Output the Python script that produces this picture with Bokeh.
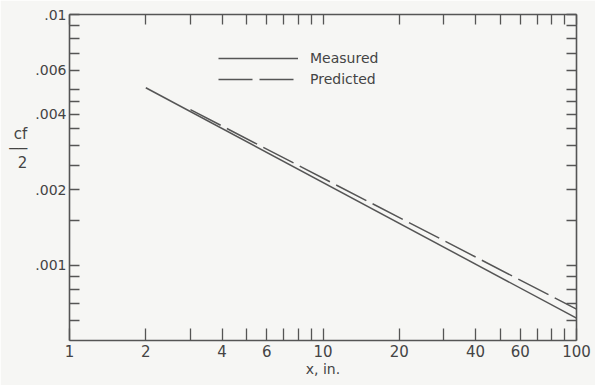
from bokeh.plotting import figure
from bokeh.models import LogAxis, FixedTicker, Legend, LegendItem
from bokeh.embed import file_html
from bokeh.resources import INLINE

# ---- data ----
measured_x = [2, 100]
measured_y = [0.0051, 0.000614]
predicted_x = [3, 100]
predicted_y = [0.00417, 0.000667]

x_major = [1, 2, 4, 6, 10, 20, 40, 60, 100]
x_major_labels = ["1", "2", "4", "6", "10", "20", "40", "60", "100"]
x_minor = [3, 5, 7, 8, 9, 30, 50, 70, 80, 90]

y_major = [0.001, 0.002, 0.004, 0.006, 0.01]
y_major_labels = [".001", ".002", ".004", ".006", ".01"]
y_minor = [0.0006, 0.0007, 0.0008, 0.0009, 0.0015, 0.0025, 0.003, 0.0035,
           0.0045, 0.005, 0.007, 0.008, 0.009]

X_RANGE = (1, 100)
Y_RANGE = (0.0005, 0.01)

BG = "#f6f6f4"
INK = "#555555"
TXT = "#444444"
FONT = "DejaVu Sans"

W, H = 595, 385
FL, FR, FT, FB = 69, 576, 14, 340  # frame edges in canvas pixels

p = figure(width=W, height=H, x_axis_type="log", y_axis_type="log",
           x_range=X_RANGE, y_range=Y_RANGE,
           output_backend="svg", toolbar_location=None,
           min_border_left=FL, min_border_right=W - FR, min_border_top=FT,
           min_border_bottom=H - FB, background_fill_color=BG,
           border_fill_color=BG, outline_line_color=None)
p.grid.visible = False


def style(ax, tick_len, size="14px"):
    ax.axis_line_color = INK
    ax.axis_line_width = 1.6
    ax.major_tick_line_color = INK
    ax.minor_tick_line_color = INK
    ax.major_tick_line_width = 1.3
    ax.minor_tick_line_width = 1.3
    ax.major_tick_in = tick_len
    ax.major_tick_out = 0
    ax.minor_tick_in = tick_len
    ax.minor_tick_out = 0
    ax.major_label_text_font = FONT
    ax.major_label_text_color = TXT
    ax.major_label_text_font_size = size
    ax.major_label_standoff = 4
    ax.axis_label_text_font = FONT
    ax.axis_label_text_font_style = "normal"
    ax.axis_label_text_color = TXT


xa = p.xaxis[0]
xa.ticker = FixedTicker(ticks=x_major, minor_ticks=x_minor)
xa.major_label_overrides = {v: s for v, s in zip(x_major, x_major_labels)}
style(xa, 12, "15px")
xa.axis_label = "x, in."
xa.axis_label_text_font_size = "14px"
xa.axis_label_standoff = 1

ya = p.yaxis[0]
ya.ticker = FixedTicker(ticks=y_major, minor_ticks=y_minor)
ya.major_label_overrides = {v: s for v, s in zip(y_major, y_major_labels)}
style(ya, 10, "14px")
ya.major_label_standoff = 3
# stacked fraction c_f / 2; trailing lines lift it to the reference height
ya.axis_label = "cf\n\u2500\u2500\n2\n \n \n \n"
ya.axis_label_orientation = "horizontal"
ya.axis_label_text_font_size = "15px"
ya.axis_label_text_line_height = 0.8
ya.axis_label_standoff = 5

# top and right frame axes: tick marks only (no labels)
top = LogAxis(ticker=FixedTicker(ticks=[], minor_ticks=x_major + x_minor))
style(top, 10)
p.add_layout(top, "above")
right = LogAxis(ticker=FixedTicker(ticks=[], minor_ticks=y_major + y_minor))
style(right, 10)
p.add_layout(right, "right")

r1 = p.line(measured_x, measured_y, line_color=INK, line_width=1.5)
r2 = p.line(predicted_x, predicted_y, line_color=INK, line_width=1.5,
            line_dash="34 7")

legend = Legend(items=[LegendItem(label="Measured", renderers=[r1]),
                       LegendItem(label="Predicted", renderers=[r2])],
                location=(149, 252), glyph_width=80, glyph_height=18,
                label_height=18, spacing=3, padding=0, margin=0,
                label_standoff=12, label_text_font=FONT,
                label_text_font_size="14px", label_text_color=TXT,
                background_fill_alpha=0, border_line_color=None)
p.add_layout(legend, "center")

open("out.html", "w").write(file_html(p, INLINE))
